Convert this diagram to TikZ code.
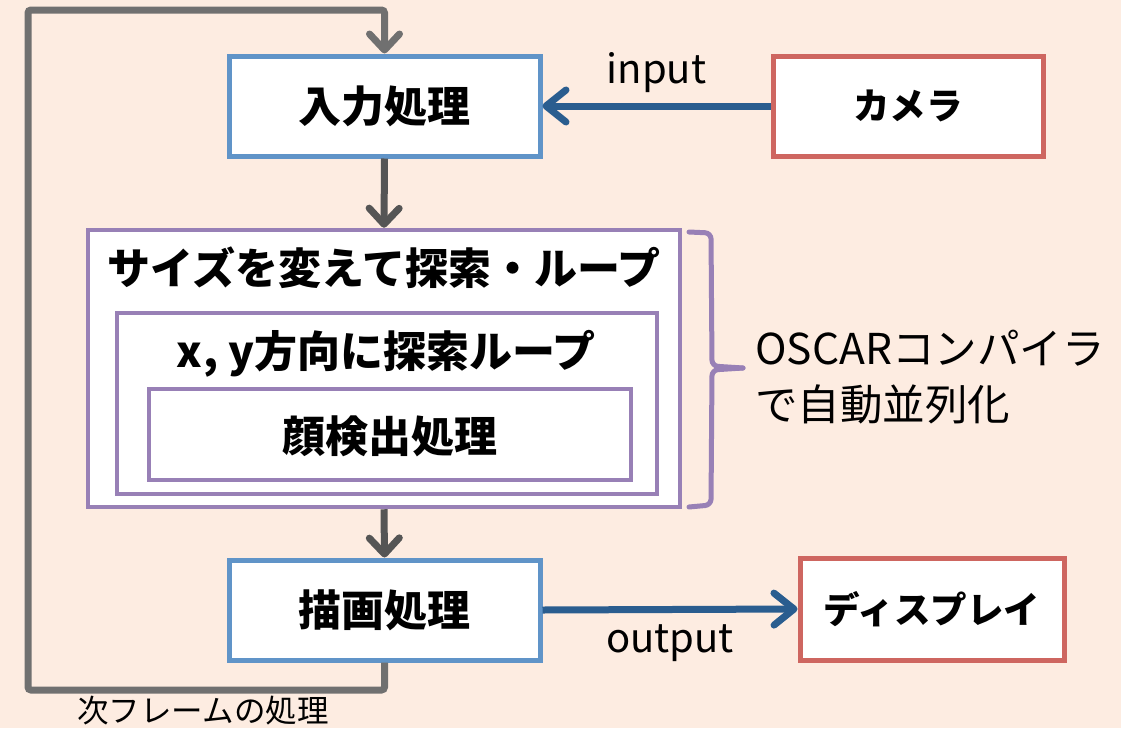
\documentclass[tikz,border=0pt]{standalone}
\usepackage{fontspec}
\setmainfont{Noto Sans CJK JP}
\usetikzlibrary{arrows.meta}
\definecolor{bgc}{RGB}{253,236,225}
\definecolor{blueb}{RGB}{96,148,200}
\definecolor{redb}{RGB}{206,102,96}
\definecolor{purb}{RGB}{152,128,182}
\definecolor{arrblue}{RGB}{42,93,143}
\definecolor{arrgray}{RGB}{85,85,85}
\definecolor{loopgray}{RGB}{112,112,112}
\tikzset{
  box/.style={draw, line width=5pt, fill=white, font=\fontsize{43}{50}\selectfont\bfseries, inner sep=0pt},
  bluebox/.style={box, draw=blueb},
  redbox/.style={box, draw=redb, font=\fontsize{36.5}{42}\selectfont\bfseries},
  purbox/.style={draw=purb, line width=4.5pt, fill=white, inner sep=0pt},
  ttl/.style={font=\fontsize{43}{50}\selectfont\bfseries, inner sep=0pt},
  grayarrow/.style={draw=arrgray, line width=7pt, -{Straight Barb[length=16pt,width=30pt,line width=7pt,round]}},
  bluearrow/.style={draw=arrblue, line width=7pt, -{Straight Barb[length=20pt,width=32pt,line width=7pt,round]}},
  looparrow/.style={draw=loopgray, line width=7pt, rounded corners=3pt, -{Straight Barb[length=16pt,width=30pt,line width=7pt,round]}},
  lbl/.style={font=\fontsize{40}{48}\selectfont, inner sep=0pt},
}
\begin{document}
\begin{tikzpicture}[x=1pt,y=-1pt]
\fill[bgc] (0,0) rectangle (1121,728);
\useasboundingbox (0,0) rectangle (1121,728);
% boxes
\node[bluebox, minimum width=311pt, minimum height=100pt] (nyu) at (384.5,106) {入力処理};
\node[redbox, minimum width=270pt, minimum height=100pt] (cam) at (908,106) {カメラ};
\node[purbox, minimum width=592pt, minimum height=277pt] (outer) at (384,368.5) {};
\node[purbox, minimum width=540pt, minimum height=181pt] (mid) at (387,403.5) {};
\node[purbox, minimum width=482pt, minimum height=91pt] (inner) at (390,434.5) {};
\node[ttl] (t1) at (384,268) {サイズを変えて探索・ループ};
\node[ttl] (t2) at (386,354) {x, y方向に探索ループ};
\node[ttl] (t3) at (390,436) {顔検出処理};
\node[bluebox, minimum width=311pt, minimum height=100pt] (draw) at (384.5,610) {描画処理};
\node[redbox, minimum width=264pt, minimum height=102pt] (disp) at (932,609) {ディスプレイ};
% connectors
\draw[bluearrow] (cam.west) -- (nyu.east) node[lbl, midway, above=10pt] (inp) {input};
\draw[grayarrow] (nyu.south) -- (outer.north);
\draw[grayarrow] (outer.south) -- (draw.north);
\draw[bluearrow] (draw.east) -- (disp.west) node[lbl, midway, below=12pt] (outp) {output};
\coordinate (l1) at (384.5,690);
\coordinate (l2) at (28,690);
\coordinate (l3) at (28,10);
\coordinate (l4) at (384.5,10);
\draw[looparrow] (draw.south) -- (l1) -- (l2) -- (l3) -- (l4) -- (nyu.north);
\node[font=\fontsize{31.5}{36}\selectfont, inner sep=0pt] (next) at (203,711) {次フレームの処理};
% brace
\draw[purb, line width=5pt, line cap=round, rounded corners=6pt] (689,232) -- (711,233) -- (712,366) -- (743,368);
\draw[purb, line width=5pt, line cap=round, rounded corners=6pt] (743,368) -- (712,370) -- (711,505) -- (689,507);
\node[font=\fontsize{42.5}{56}\selectfont, align=left, anchor=west, inner sep=0pt] (osc) at (755,377) {OSCARコンパイラ\\で自動並列化};
\end{tikzpicture}
\end{document}
